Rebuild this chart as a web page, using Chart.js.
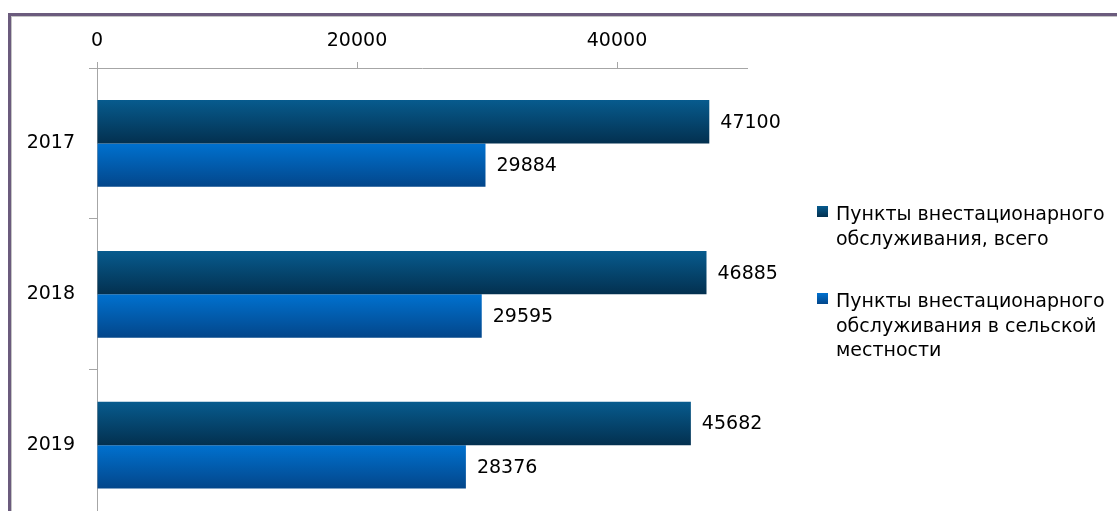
<!DOCTYPE html>
<html>
<head>
<meta charset="utf-8">
<script src="https://cdn.jsdelivr.net/npm/chart.js@4.4.1/dist/chart.umd.min.js"></script>
<style>
html, body { margin: 0; padding: 0; width: 1117px; height: 511px; overflow: hidden; background: #fff; font-family: "DejaVu Sans", sans-serif; }
#frame { position: absolute; left: 8px; top: 13px; width: 1200px; height: 600px; border: 3px solid #6b5b7d; box-shadow: inset 1px 1px 0 #c4c4c4; }
#chart { position: absolute; left: 0; top: 0; }
#legend { position: absolute; left: 817px; top: 201px; font-size: 19px; line-height: 24.5px; color: #000; }
.item { position: relative; padding-left: 19px; margin-bottom: 38px; }
.box { position: absolute; left: 0; top: 5px; width: 11px; height: 11px; }
</style>
</head>
<body>
<div id="frame"></div>
<canvas id="chart" width="1117" height="546"></canvas>
<div id="legend"></div>
<script>
const years = ["2017", "2018", "2019"];
const totalPoints = [47100, 46885, 45682];
const ruralPoints = [29884, 29595, 28376];
const seriesNames = [
    "Пункты внестационарного обслуживания, всего",
    "Пункты внестационарного обслуживания в сельской местности"
];
const xTicks = [0, 20000, 40000];
const xMax = 50000;

// gradient stops per series: top, bottom
const seriesColors = [
    ["#075b8e", "#03304f"],
    ["#0071cf", "#03468a"]
];
const catPct = 0.575;

function barFill(c) {
    const stops = seriesColors[c.datasetIndex];
    const chart = c.chart;
    const y = chart.scales.y;
    if (c.dataIndex === undefined || !y || !chart.chartArea) return stops[0];
    const catH = (y.bottom - y.top) / years.length;
    const barH = catH * catPct / 2;
    const y0 = y.getPixelForValue(c.dataIndex) - catH * catPct / 2 + c.datasetIndex * barH;
    const g = chart.ctx.createLinearGradient(0, y0, 0, y0 + barH);
    g.addColorStop(0, stops[0]);
    g.addColorStop(1, stops[1]);
    return g;
}

const valueLabels = {
    id: "valueLabels",
    afterDatasetsDraw(chart) {
        const ctx = chart.ctx;
        ctx.save();
        ctx.font = "19px 'DejaVu Sans'";
        ctx.fillStyle = "#000";
        ctx.textBaseline = "middle";
        chart.data.datasets.forEach((ds, i) => {
            chart.getDatasetMeta(i).data.forEach((bar, j) => {
                ctx.fillText(String(ds.data[j]), bar.x + 11, bar.y + 1);
            });
        });
        ctx.restore();
    }
};

new Chart(document.getElementById("chart"), {
    type: "bar",
    data: {
        labels: years,
        datasets: [{
            label: seriesNames[0],
            data: totalPoints,
            backgroundColor: barFill
        }, {
            label: seriesNames[1],
            data: ruralPoints,
            backgroundColor: barFill
        }]
    },
    options: {
        indexAxis: "y",
        responsive: false,
        animation: false,
        devicePixelRatio: 1,
        categoryPercentage: catPct,
        barPercentage: 1,
        layout: { padding: { left: 0, top: 0, right: 370, bottom: 10 } },
        plugins: { legend: { display: false }, tooltip: { enabled: false } },
        scales: {
            x: {
                position: "top",
                min: 0,
                max: xMax,
                afterBuildTicks: s => { s.ticks = xTicks.map(v => ({ value: v })); },
                afterFit: s => { s.height = 68; },
                border: { color: "#a6a6a6" },
                grid: { drawOnChartArea: false, tickLength: 6, color: "#a6a6a6" },
                ticks: {
                    color: "#000",
                    font: { family: "DejaVu Sans", size: 19 },
                    padding: 10,
                    maxRotation: 0,
                    callback: v => String(v)
                }
            },
            y: {
                afterFit: s => { s.width = 97; },
                border: { color: "#a6a6a6" },
                grid: { drawOnChartArea: false, tickLength: 8, color: "#a6a6a6" },
                ticks: { color: "#000", font: { family: "DejaVu Sans", size: 19 }, padding: 14 }
            }
        }
    },
    plugins: [valueLabels]
});

const legend = document.getElementById("legend");
seriesNames.forEach((name, i) => {
    const item = document.createElement("div");
    item.className = "item";
    const box = document.createElement("span");
    box.className = "box";
    box.style.background = "linear-gradient(" + seriesColors[i][0] + "," + seriesColors[i][1] + ")";
    item.appendChild(box);
    const words = name.split(" ");
    // wrap the way the original legend does
    const lines = i === 0
        ? [words.slice(0, 2).join(" "), words.slice(2).join(" ")]
        : [words.slice(0, 2).join(" "), words.slice(2, 5).join(" "), words.slice(5).join(" ")];
    lines.forEach(t => {
        const line = document.createElement("div");
        line.textContent = t;
        item.appendChild(line);
    });
    legend.appendChild(item);
});
</script>
</body>
</html>
